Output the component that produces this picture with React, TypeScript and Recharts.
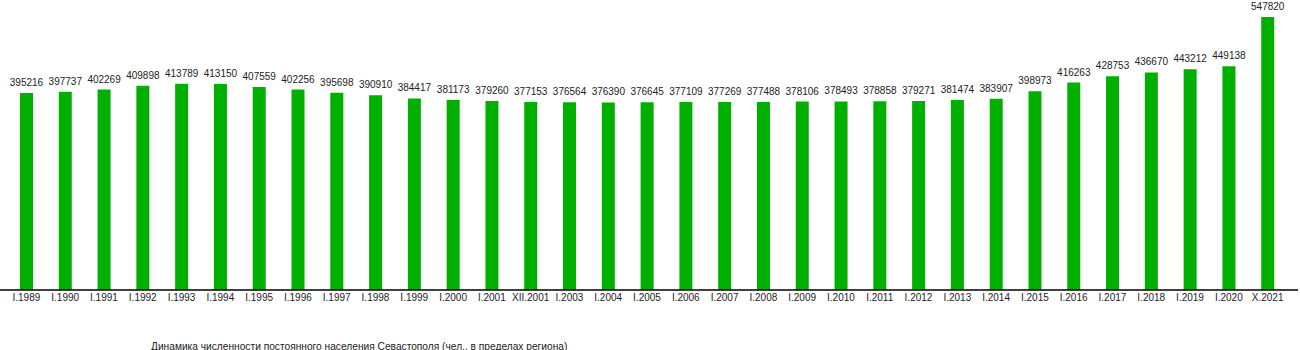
import { BarChart, Bar, XAxis, YAxis, LabelList } from "recharts";

const years = [
  "I.1989", "I.1990", "I.1991", "I.1992", "I.1993", "I.1994", "I.1995", "I.1996",
  "I.1997", "I.1998", "I.1999", "I.2000", "I.2001", "XII.2001", "I.2003", "I.2004",
  "I.2005", "I.2006", "I.2007", "I.2008", "I.2009", "I.2010", "I.2011", "I.2012",
  "I.2013", "I.2014", "I.2015", "I.2016", "I.2017", "I.2018", "I.2019", "I.2020",
  "X.2021",
];

const population = [
  395216, 397737, 402269, 409898, 413789, 413150, 407559, 402256,
  395698, 390910, 384417, 381173, 379260, 377153, 376564, 376390,
  376645, 377109, 377269, 377488, 378106, 378493, 378858, 379271,
  381474, 383907, 398973, 416263, 428753, 436670, 443212, 449138,
  547820,
];

const title =
  "Динамика численности постоянного населения Севастополя (чел., в пределах региона)";

const data = years.map((name, i) => ({ name, value: population[i] }));

const FONT = "'Liberation Sans', Arial, sans-serif";

export default function App() {
  return (
    <div
      style={{
        position: "fixed",
        left: 0,
        top: 0,
        width: 1300,
        height: 350,
        overflow: "hidden",
        background: "#fff",
        fontFamily: FONT,
      }}
    >
      <BarChart
        width={1300}
        height={350}
        data={data}
        margin={{ top: 17, right: 2, bottom: 30, left: 0 }}
        barCategoryGap={0}
      >
        <XAxis
          dataKey="name"
          interval={0}
          height={30}
          tickLine={false}
          tickSize={0}
          tickMargin={4}
          padding={{ left: 7, right: 11 }}
          axisLine={{ stroke: "#000", strokeWidth: 1.5 }}
          tick={{ fill: "#222", fontSize: 10, fontFamily: FONT }}
        />
        <YAxis hide domain={[0, "dataMax"]} />
        <Bar dataKey="value" fill="#00b000" barSize={13} isAnimationActive={false}>
          <LabelList
            dataKey="value"
            position="top"
            offset={7}
            style={{ fill: "#222", fontSize: 10, fontFamily: FONT }}
          />
        </Bar>
      </BarChart>
      <div
        style={{
          position: "absolute",
          left: 151,
          top: 342,
          fontSize: 10.2,
          lineHeight: "10px",
          color: "#222",
          whiteSpace: "nowrap",
        }}
      >
        {title}
      </div>
    </div>
  );
}
